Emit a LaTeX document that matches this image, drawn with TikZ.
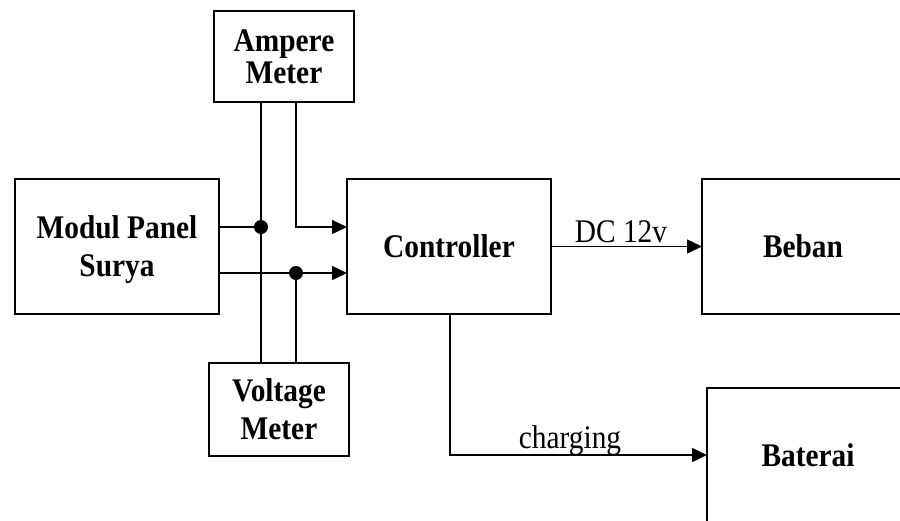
\documentclass[tikz,border=0pt]{standalone}
\usepackage{fontspec}
\setmainfont[FakeStretch=0.89]{Liberation Serif}
\usetikzlibrary{arrows.meta}
\begin{document}
\begin{tikzpicture}[x=1pt,y=-1pt,
  box/.style={draw, line width=2pt, inner sep=0pt, outer sep=0pt, align=center,
    font=\bfseries\fontsize{33}{38}\selectfont},
  conn/.style={line width=1.4pt},
  arr/.style={conn, -{Triangle[length=15pt,width=14pt]}},
  lbl/.style={font=\fontsize{33}{38}\selectfont, anchor=base, inner sep=0pt},
  dotnode/.style={circle, fill, inner sep=0pt, minimum size=14pt}]
\clip (0,0) rectangle (900,520);
\node[box, minimum width=140pt, minimum height=91pt,
  font=\bfseries\fontsize{33}{32}\selectfont] (amp) at (284,56.5) {Ampere\\\smash{Meter}};
\node[box, minimum width=204pt, minimum height=135pt] (mod) at (117,246.5) {Modul Panel\\\smash{Surya}};
\node[box, minimum width=204pt, minimum height=135pt] (ctrl) at (449,246.5) {Controller};
\node[box, minimum width=140pt, minimum height=93pt] (volt) at (279,409.5) {Voltage\\\smash{Meter}};
\node[box, minimum width=202pt, minimum height=135pt] (beban) at (803,246.5) {Beban};
\node[box, minimum width=202pt, minimum height=134pt] (bat) at (808,455) {Baterai};
\coordinate (d1) at (261,227);
\coordinate (a2) at (296,227);
\coordinate (d2) at (296,273);
\coordinate (k) at (450,455);
\draw[conn] (mod.east |- d1) -- (d1);
\draw[conn] (amp.south -| d1) -- (volt.north -| d1);
\draw[arr] (amp.south -| a2) -- (a2) -- (ctrl.west |- a2);
\draw[arr] (mod.east |- d2) -- (ctrl.west |- d2);
\draw[conn] (d2) -- (volt.north -| d2);
\node[dotnode] (dot1) at (d1) {};
\node[dotnode] (dot2) at (d2) {};
\draw[arr] (ctrl.east) -- (beban.west);
\draw[arr] (ctrl.south -| k) -- (k) -- (bat.west |- k);
\node[lbl] (dc) at (621,242) {DC 12v};
\node[lbl] (chg) at (570,448) {charging};
\end{tikzpicture}
\end{document}
